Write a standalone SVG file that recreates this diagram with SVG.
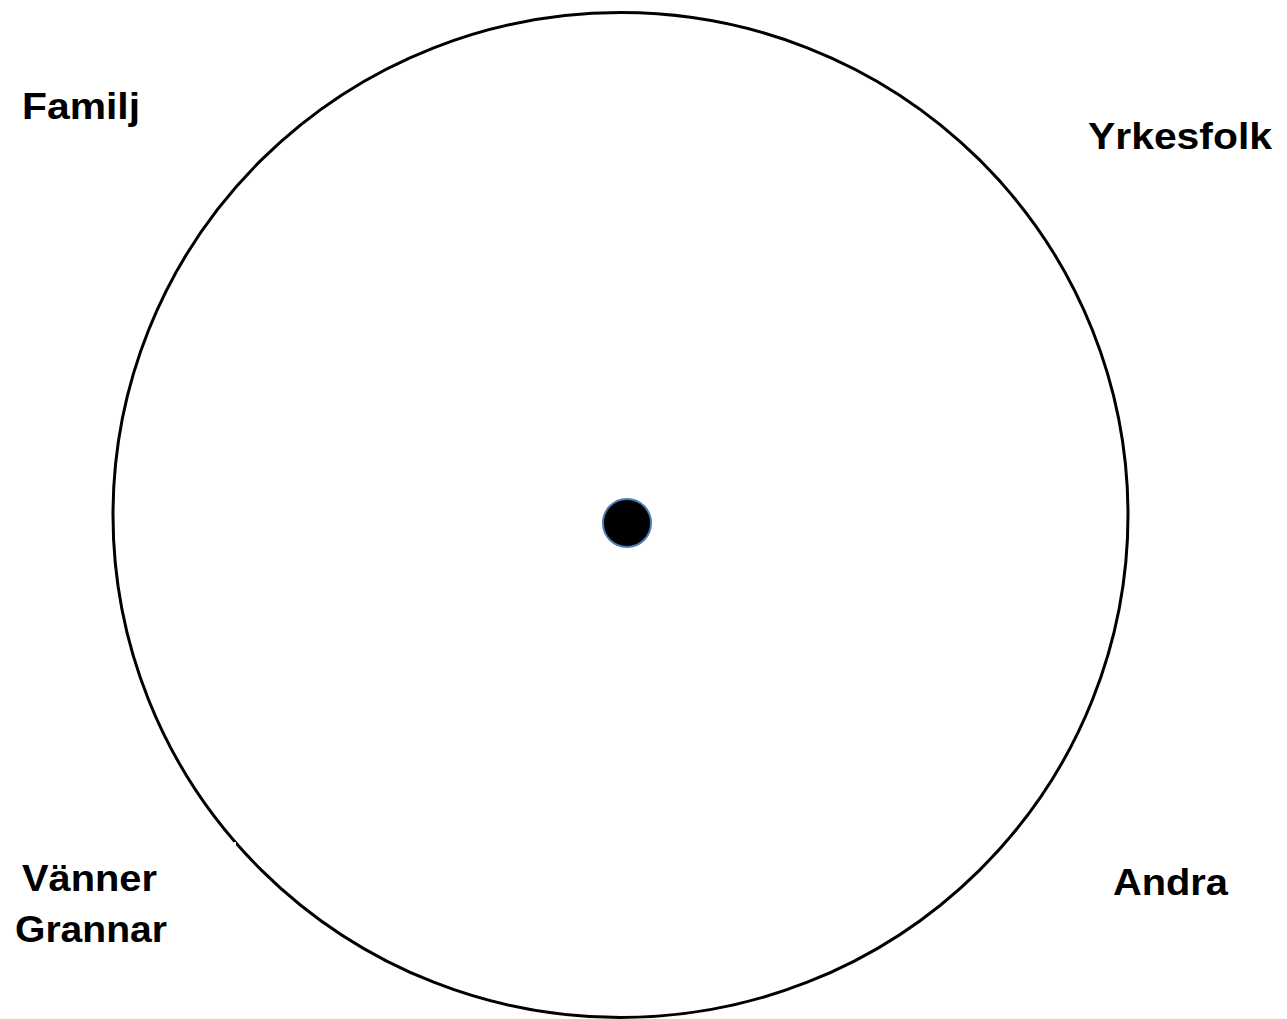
<svg xmlns="http://www.w3.org/2000/svg" width="1287" height="1019" viewBox="0 0 1287 1019">
<style>
.lbl{font-family:"Liberation Sans",Arial,sans-serif;font-weight:bold;font-size:37px;fill:#000}
</style>
<rect width="1287" height="1019" fill="#fff"/>
<g id="circle">
<ellipse cx="620.5" cy="515" rx="507.5" ry="502.5" fill="none" stroke="#000" stroke-width="3"/>
<rect x="234" y="842" width="2" height="4" fill="#fff"/>
</g>
<g id="center">
<circle cx="627" cy="523" r="24" fill="#000" stroke="#4a7bb0" stroke-width="2"/>
</g>
<g id="familj"><text class="lbl" x="22" y="119" textLength="118" lengthAdjust="spacingAndGlyphs">Familj</text></g>
<g id="yrkesfolk"><text class="lbl" x="1088" y="149" textLength="184" lengthAdjust="spacingAndGlyphs">Yrkesfolk</text></g>
<g id="vanner"><text class="lbl" x="22" y="891" textLength="135" lengthAdjust="spacingAndGlyphs">Vänner</text>
<text class="lbl" x="15" y="942" textLength="152" lengthAdjust="spacingAndGlyphs">Grannar</text></g>
<g id="andra"><text class="lbl" x="1113" y="895" textLength="115" lengthAdjust="spacingAndGlyphs">Andra</text></g>
<g id="connectors"/>
</svg>
